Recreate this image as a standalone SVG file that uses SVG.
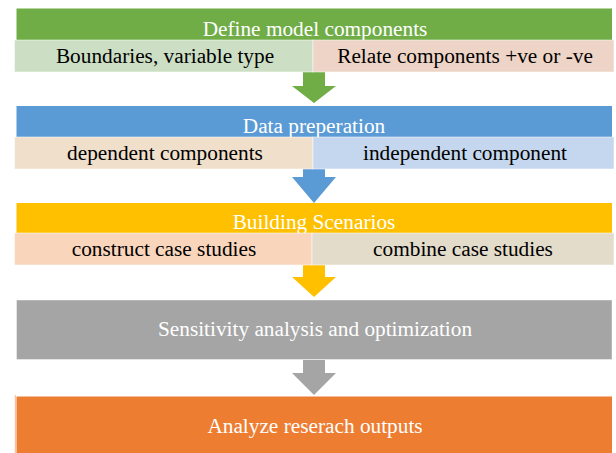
<svg xmlns="http://www.w3.org/2000/svg" width="616" height="453" viewBox="0 0 616 453">
<style>
.t{font-family:"Liberation Serif","Times New Roman",serif;font-size:21.3px;text-anchor:middle}
.w{fill:#ffffff}
.b{fill:#000000}
.sub{stroke:#ffffff;stroke-opacity:0.5;stroke-width:1}
</style>
<rect width="616" height="453" fill="#ffffff"/>
<g id="connectors">
<polygon points="303,72 325,72 325,86 336,86 314,103 292,86 303,86" fill="#70AD47"/>
<polygon points="303,169 325,169 325,177 336,177 314,203 292,177 303,177" fill="#5B9BD5"/>
<polygon points="303,265 325,265 325,277 336,277 314,297 292,277 303,277" fill="#FFC000"/>
<polygon points="303,360 325,360 325,373 336,373 314,395 292,373 303,373" fill="#A5A5A5"/>
</g>
<g id="define">
<rect x="16.5" y="8.5" width="595.5" height="32" fill="#70AD47"/>
<text class="t w" x="315" y="36">Define model components</text>
</g>
<g id="boundaries">
<rect class="sub" x="14.5" y="40" width="298.5" height="32" fill="#CCDFC4"/>
<text class="t b" x="165" y="63">Boundaries, variable type</text>
</g>
<g id="relate">
<rect class="sub" x="313" y="40" width="301" height="32" fill="#EED4C6"/>
<text class="t b" x="465" y="63">Relate components +ve or -ve</text>
</g>
<g id="data">
<rect x="16.5" y="106" width="595.5" height="31" fill="#5B9BD5"/>
<text class="t w" x="314" y="133">Data preperation</text>
</g>
<g id="dependent">
<rect class="sub" x="14.5" y="137" width="298.5" height="32" fill="#EFDFCB"/>
<text class="t b" x="165" y="160">dependent components</text>
</g>
<g id="independent">
<rect class="sub" x="313" y="137" width="301" height="32" fill="#C5D7EE"/>
<text class="t b" x="465" y="160">independent component</text>
</g>
<g id="building">
<rect x="16.5" y="203" width="595.5" height="30" fill="#FFC000"/>
<text class="t w" x="314" y="229">Building Scenarios</text>
</g>
<g id="construct">
<rect class="sub" x="14.5" y="233" width="297.5" height="32" fill="#F9D5BC"/>
<text class="t b" x="164" y="256">construct case studies</text>
</g>
<g id="combine">
<rect class="sub" x="312" y="233" width="302" height="32" fill="#E4DCCB"/>
<text class="t b" x="463" y="256">combine case studies</text>
</g>
<g id="sensitivity">
<rect x="16.5" y="300" width="595.5" height="59.5" fill="#A5A5A5" stroke="#ffffff" stroke-opacity="0.4"/>
<text class="t w" x="315" y="336">Sensitivity analysis and optimization</text>
</g>
<g id="analyze">
<rect x="16.5" y="396.5" width="595.5" height="57" fill="#ED7D31"/>
<line x1="15.3" y1="395" x2="15.3" y2="453" stroke="#F4B48C" stroke-width="1"/>
<text class="t w" x="315" y="433">Analyze reserach outputs</text>
</g>
</svg>
